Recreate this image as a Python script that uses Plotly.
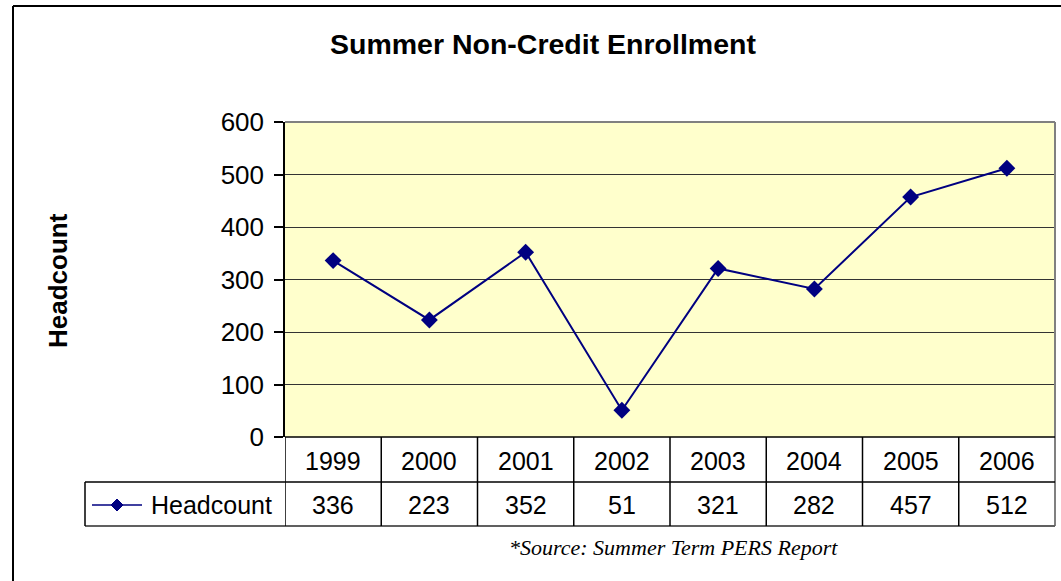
import plotly.graph_objects as go

years = ["1999", "2000", "2001", "2002", "2003", "2004", "2005", "2006"]
headcount = [336, 223, 352, 51, 321, 282, 457, 512]
y_ticks = [0, 100, 200, 300, 400, 500, 600]
series_name = "Headcount"
title_text = "Summer Non-Credit Enrollment"
source_text = "*Source: Summer Term PERS Report"

W, H = 1061, 581
def px(x):
    return x / W
def py(y):
    return 1 - y / H

X0, X1 = 285, 1055  # plot area pixels
Y_TOP, Y_BOT = 122, 437
ROW1, ROW2 = 482, 526
LEG_X = 85
NAVY = "#000080"
FONT = "Liberation Sans, Arial, sans-serif"

fig = go.Figure()
fig.add_trace(go.Scatter(
    x=list(range(len(years))), y=headcount, mode="lines+markers",
    line=dict(color=NAVY, width=2),
    marker=dict(symbol="diamond", size=13, color=NAVY),
    name=series_name, showlegend=False, hoverinfo="x+y",
))

def hline(x0, x1, y, color="#000000", width=1.5):
    return dict(type="line", xref="paper", yref="paper", x0=px(x0), x1=px(x1), y0=py(y), y1=py(y),
                line=dict(color=color, width=width))

def vline(x, y0, y1, color="#000000", width=1.5):
    return dict(type="line", xref="paper", yref="paper", x0=px(x), x1=px(x), y0=py(y0), y1=py(y1),
                line=dict(color=color, width=width))

shapes = []
# outer chart border (left and top edges visible)
shapes.append(hline(13, W, 6, "#000000", 2))
shapes.append(vline(13, 6, H, "#000000", 2))
# plot area top/right border (gray)
shapes.append(hline(X0, X1, Y_TOP, "#808080", 2))
shapes.append(vline(X1, Y_TOP, ROW2, "#808080", 2))
# table lines
shapes.append(hline(X0, X1, Y_BOT))
shapes.append(hline(LEG_X, X1, ROW1))
shapes.append(hline(LEG_X, X1, ROW2, "#606060", 2))
shapes.append(vline(LEG_X, ROW1, ROW2))
for i in range(len(years)):
    shapes.append(dict(type="line", xref="x", yref="paper", x0=i - 0.5, x1=i - 0.5, y0=py(Y_BOT), y1=py(ROW2),
                       line=dict(color="#000000", width=1.5)))
# legend glyph in table
ly = (ROW1 + ROW2) / 2 + 1
shapes.append(hline(92, 142, ly, NAVY, 1.5))
cx, r = 117, 6
shapes.append(dict(type="path", xref="paper", yref="paper",
                   path=f"M {px(cx)} {py(ly - r)} L {px(cx + r)} {py(ly)} L {px(cx)} {py(ly + r)} L {px(cx - r)} {py(ly)} Z",
                   fillcolor=NAVY, line=dict(color=NAVY, width=1)))

annotations = []
annotations.append(dict(text=f"<b>{title_text}</b>", xref="paper", yref="paper", x=px(543), y=py(44),
                        showarrow=False, font=dict(family=FONT, size=28.5, color="#000000"), xanchor="center", yanchor="middle"))
annotations.append(dict(text=f"<b>{series_name}</b>", xref="paper", yref="paper", x=px(58), y=py(281),
                        showarrow=False, textangle=-90, font=dict(family=FONT, size=26, color="#000000"),
                        xanchor="center", yanchor="middle"))
for i, (yr, v) in enumerate(zip(years, headcount)):
    annotations.append(dict(text=yr, xref="x", yref="paper", x=i, y=py((Y_BOT + ROW1) / 2 + 1), showarrow=False,
                            font=dict(family=FONT, size=25, color="#000000"), xanchor="center", yanchor="middle"))
    annotations.append(dict(text=str(v), xref="x", yref="paper", x=i, y=py((ROW1 + ROW2) / 2 + 1), showarrow=False,
                            font=dict(family=FONT, size=25, color="#000000"), xanchor="center", yanchor="middle"))
annotations.append(dict(text=series_name, xref="paper", yref="paper", x=px(149), y=py((ROW1 + ROW2) / 2 + 1),
                        showarrow=False, font=dict(family=FONT, size=25, color="#000000"), xanchor="left", yanchor="middle"))
annotations.append(dict(text=f"<i>{source_text}</i>", xref="paper", yref="paper", x=px(507), y=py(547),
                        showarrow=False, font=dict(family="Liberation Serif, Times New Roman, serif", size=22, color="#000000"),
                        xanchor="left", yanchor="middle"))

fig.update_layout(
    width=W, height=H, margin=dict(l=0, r=0, t=0, b=0, pad=0), autosize=False,
    paper_bgcolor="#FFFFFF", plot_bgcolor="#FFFFCC",
    xaxis=dict(domain=[px(X0), px(X1)], range=[-0.5, len(years) - 0.5], showticklabels=False,
               showgrid=False, zeroline=False, showline=False, ticks="", automargin=False),
    yaxis=dict(domain=[py(Y_BOT), py(Y_TOP)], range=[0, 600], tickvals=y_ticks, automargin=False,
               showgrid=True, gridcolor="#333333", gridwidth=1, zeroline=False,
               showline=True, linecolor="#000000", linewidth=1.5,
               ticks="outside", ticklen=9, tickcolor="#000000", tickwidth=1.5, ticklabelstandoff=5,
               tickfont=dict(family=FONT, size=26, color="#000000")),
    shapes=shapes, annotations=annotations, showlegend=False,
)
fig.write_html("out.html", config={"displayModeBar": False},
               post_script="document.body.style.margin='0';document.body.style.overflow='hidden';")
